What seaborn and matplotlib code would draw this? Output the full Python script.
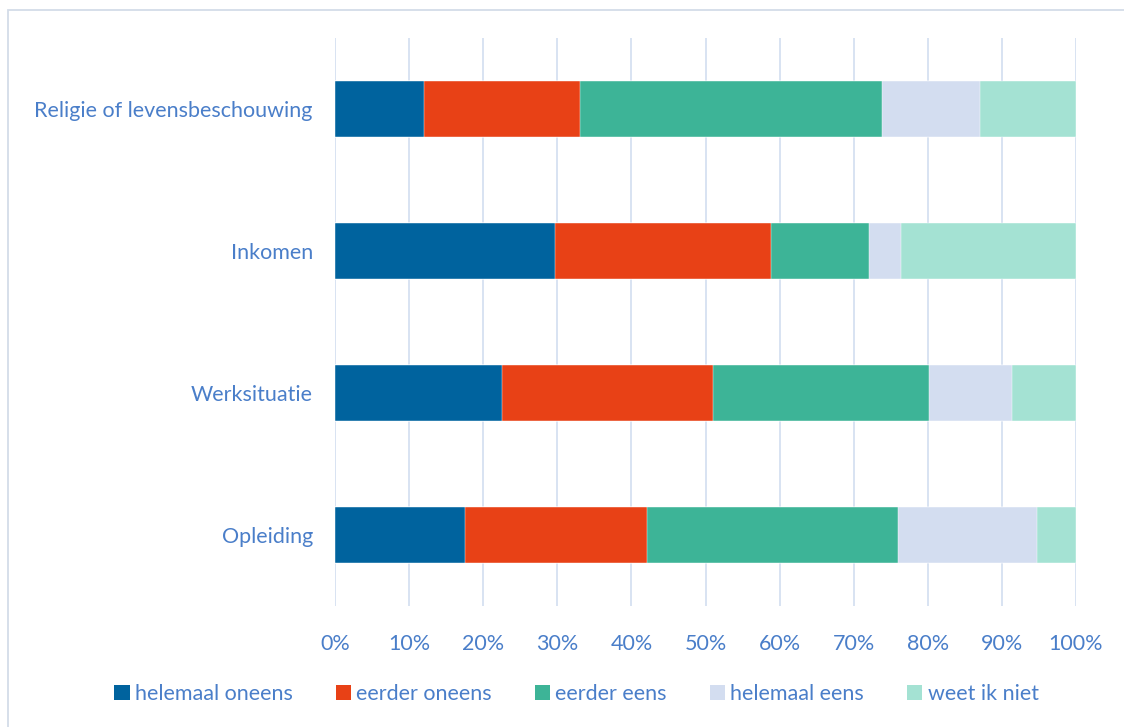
import numpy as np
import pandas as pd
import seaborn as sns
import matplotlib.pyplot as plt
from matplotlib.patches import Patch, Rectangle

# --- data (percentages) ---
categories = ['Religie of levensbeschouwing', 'Inkomen', 'Werksituatie', 'Opleiding']
answers = ['helemaal oneens', 'eerder oneens', 'eerder eens', 'helemaal eens', 'weet ik niet']
helemaal_oneens = [12.0, 29.7, 22.5, 17.6]
eerder_oneens = [21.1, 29.2, 28.5, 24.5]
eerder_eens = [40.7, 13.1, 29.1, 33.9]
helemaal_eens = [13.3, 4.4, 11.2, 18.8]
weet_ik_niet = [12.9, 23.6, 8.7, 5.2]
ticks = [0, 10, 20, 30, 40, 50, 60, 70, 80, 90, 100]

colors = ['#00639E', '#E84116', '#3DB497', '#D3DDF0', '#A4E2D3']
text_color = '#4A7EC9'
grid_color = '#D6E1F1'

sns.set_theme(style='white')
plt.rcParams['font.family'] = ['Lato', 'DejaVu Sans']

df = pd.DataFrame({
    'categorie': categories,
    answers[0]: helemaal_oneens,
    answers[1]: eerder_oneens,
    answers[2]: eerder_eens,
    answers[3]: helemaal_eens,
    answers[4]: weet_ik_niet,
})
# cumulative totals so each segment can be drawn on top of the next one
cum = df[answers].cumsum(axis=1)

fig = plt.figure(figsize=(11.24, 7.27), dpi=100)
ax = fig.add_axes([335 / 1124, 1 - 606 / 727, 741 / 1124, 568 / 727])

for i in reversed(range(len(answers))):
    sns.barplot(x=cum[answers[i]], y=df['categorie'], orient='h', color=colors[i],
                width=0.4, saturation=1, ax=ax, edgecolor='white', linewidth=0.3)

ax.set_xlim(0, 100)
ax.set_ylim(3.5, -0.5)
ax.set_xticks(ticks)
ax.set_xticklabels([f'{t}%' for t in ticks])
ax.xaxis.grid(True, color=grid_color, linewidth=1.3)
ax.set_axisbelow(True)
for s in ax.spines.values():
    s.set_visible(False)
ax.tick_params(axis='x', length=0, pad=20, labelsize=15.5, labelcolor=text_color)
ax.tick_params(axis='y', length=0, pad=16, labelsize=15.5, labelcolor=text_color)
ax.set_xlabel('')
ax.set_ylabel('')

handles = [Patch(facecolor=c, edgecolor='none') for c in colors]
fig.legend(handles, answers, loc='center', bbox_to_anchor=(0.513, 1 - 694 / 727), ncol=5,
           frameon=False, handlelength=0.7, handleheight=0.7, handletextpad=0.25,
           columnspacing=2.0, fontsize=15.5, labelcolor=text_color)

# light frame around the chart area
fig.patches.append(Rectangle((8 / 1124, -0.1), 1.2, 1.1 - 10 / 727, transform=fig.transFigure,
                             fill=False, edgecolor='#D3DCE8', linewidth=1.3))

fig.savefig('out.png', dpi=100)
